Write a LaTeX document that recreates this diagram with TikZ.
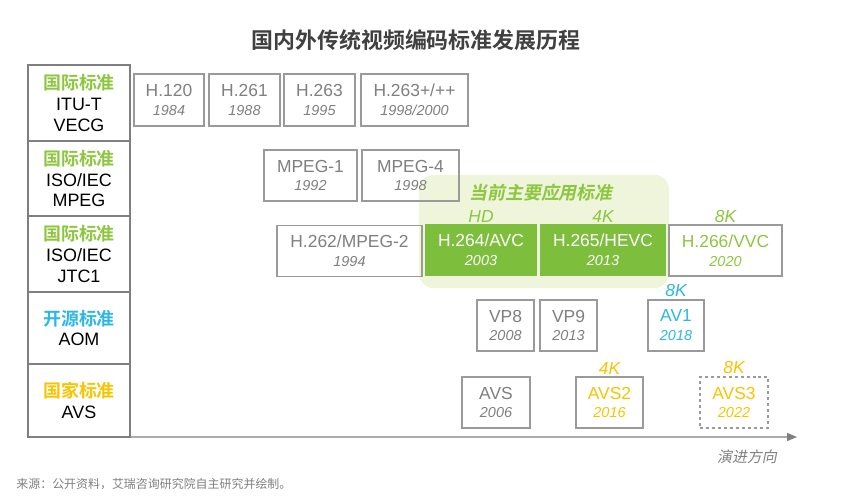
\documentclass[tikz,border=0pt]{standalone}
\usepackage{fontspec}
\setmainfont{Liberation Sans}
\newfontfamily\cjk{Noto Sans CJK SC}
\newfontfamily\cjkbold{Noto Sans CJK SC Bold}
\newfontfamily\cjkslant[FakeSlant=0.2]{Noto Sans CJK SC}
\newfontfamily\cjkboldslant[FakeSlant=0.2]{Noto Sans CJK SC Bold}
\usetikzlibrary{arrows.meta,positioning}
\definecolor{stdgreen}{HTML}{8DC63F}
\definecolor{boxgreen}{HTML}{7DBE3C}
\definecolor{softgreen}{HTML}{EEF5DA}
\definecolor{aomblue}{HTML}{2DB7E6}
\definecolor{avsyellow}{HTML}{F9C300}
\definecolor{framegray}{HTML}{9A9A9A}
\definecolor{textgray}{HTML}{7F7F7F}
\definecolor{titlegray}{HTML}{404040}
\newcommand{\yr}[1]{{\fontsize{14.5}{15}\selectfont\itshape #1}}

\begin{document}
\begin{tikzpicture}[x=1bp, y=-1bp, thick]

		\tikzstyle{cat}=[rectangle, draw=textgray, line width=1.3bp, outer sep=0pt, minimum width=102bp, align=center, text=black, font=\fontsize{18}{21}\selectfont]
		\tikzstyle{std}=[rectangle, draw=framegray, line width=1.2bp, minimum height=51bp, inner sep=0pt, align=center, text=textgray, font=\fontsize{17.5}{19}\selectfont]
		\tikzstyle{cur}=[std, draw=none, fill=boxgreen, text=white]
		\tikzstyle{res}=[inner sep=0pt, font=\fontsize{17.5}{18}\selectfont\itshape]
		\useasboundingbox (0,0) rectangle (856,500);

		% Title
		\node[text=titlegray, font=\fontsize{22}{24}\selectfont\cjkbold] (title) at (416,40) {国内外传统视频编码标准发展历程};

		% Current main standards
		\node[fill=softgreen, rounded corners=14bp, minimum width=250bp, minimum height=113bp] (mainuse) at (544,231.5) {};
		\node[text=stdgreen, font=\fontsize{18}{20}\selectfont\cjkboldslant] (mainlbl) at (541,193) {当前主要应用标准};

		% Organisations
		\node[cat, minimum height=76bp] (itu) at (79,103) {\textcolor{stdgreen}{\cjkbold 国际标准}\\ITU-T\\VECG};
		\node[cat, minimum height=75bp, below=0pt of itu] (mpeg) {\textcolor{stdgreen}{\cjkbold 国际标准}\\ISO/IEC\\MPEG};
		\node[cat, minimum height=76bp, below=0pt of mpeg] (jtc) {\textcolor{stdgreen}{\cjkbold 国际标准}\\ISO/IEC\\JTC1};
		\node[cat, minimum height=72bp, below=0pt of jtc] (aom) {\textcolor{aomblue}{\cjkbold 开源标准}\\AOM};
		\node[cat, minimum height=73bp, below=0pt of aom] (avsorg) {\textcolor{avsyellow}{\cjkbold 国家标准}\\AVS};

		% ITU-T
		\node[std, minimum width=70bp, minimum height=52bp] (h120) at (169,100) {H.120\\\yr{1984}};
		\node[std, minimum width=71bp, minimum height=52bp] (h261) at (244.5,100) {H.261\\\yr{1988}};
		\node[std, minimum width=71bp, minimum height=52bp] (h263) at (319.5,100) {H.263\\\yr{1995}};
		\node[std, minimum width=107bp, minimum height=52bp] (h263p) at (414.5,100) {H.263+/++\\\yr{1998/2000}};

		% MPEG
		\node[std, minimum width=93bp] (mpeg1) at (310.5,175.5) {MPEG-1\\\yr{1992}};
		\node[std, minimum width=97bp] (mpeg4) at (410.5,175.5) {MPEG-4\\\yr{1998}};

		% JTC1
		\node[std, minimum width=145bp] (h262) at (349.5,251) {H.262/MPEG-2\\\yr{1994}};
		\node[cur, minimum width=112bp, minimum height=52bp] (h264) at (481,250) {H.264/AVC\\\yr{2003}};
		\node[cur, minimum width=126bp, minimum height=52bp] (h265) at (603,250) {H.265/HEVC\\\yr{2013}};
		\node[std, minimum width=113bp, text=stdgreen] (h266) at (725.5,250.5) {H.266/VVC\\\yr{2020}};
		\node[res, text=stdgreen, above=1bp of h264] (hd) {HD};
		\node[res, text=stdgreen, above=1bp of h265] (k4a) {4K};
		\node[res, text=stdgreen, above=1bp of h266] (k8a) {8K};

		% AOM
		\node[std, minimum width=57bp] (vp8) at (505.5,325.5) {VP8\\\yr{2008}};
		\node[std, minimum width=57bp] (vp9) at (568.5,325.5) {VP9\\\yr{2013}};
		\node[std, minimum width=56bp, text=aomblue] (av1) at (676,325.5) {AV1\\\yr{2018}};
		\node[res, text=aomblue, above=2bp of av1] (k8b) {8K};

		% AVS
		\node[std, minimum width=68bp] (avs) at (496,402.5) {AVS\\\yr{2006}};
		\node[std, minimum width=67bp, text=avsyellow] (avs2) at (609.5,402.5) {AVS2\\\yr{2016}};
		\node[std, minimum width=68bp, dashed, text=avsyellow] (avs3) at (734,402.5) {AVS3\\\yr{2022}};
		\node[res, text=avsyellow, above=2bp of avs2] (k4c) {4K};
		\node[res, text=avsyellow, above=2bp of avs3] (k8c) {8K};

		% Direction axis
		\coordinate (axisend) at (797,437);
		\draw[-{Triangle[length=10bp,width=8bp]}, textgray, line width=1.3bp] (avsorg.south east) -- (axisend);
		\node[text=textgray, font=\fontsize{15}{16}\selectfont\cjkslant] (dir) at (747,457) {演进方向};

		% Source
		\node[anchor=west, inner sep=0pt, text=textgray, font=\fontsize{12}{13}\selectfont\cjk] (src) at (16,484) {来源：公开资料，艾瑞咨询研究院自主研究并绘制。};

\end{tikzpicture}
\end{document}
